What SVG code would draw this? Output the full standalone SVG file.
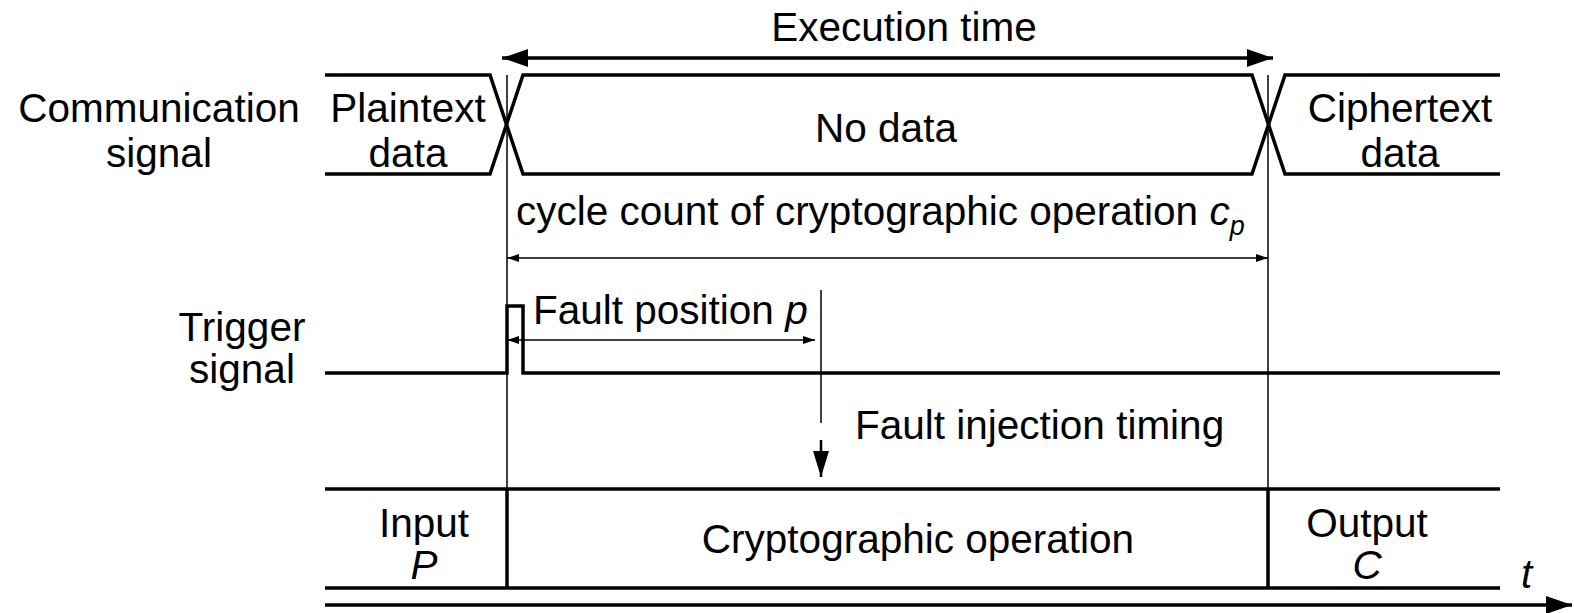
<svg xmlns="http://www.w3.org/2000/svg" width="1574" height="613" viewBox="0 0 1574 613">
  <style>
    .txt { font-family: "Liberation Sans", Arial, sans-serif; font-size: 40.5px; fill: #000; }
    .mid { text-anchor: middle; }
    .it { font-style: italic; }
    .thick { stroke: #000; stroke-width: 3.5; fill: none; }
    .thin { stroke: #000; stroke-width: 1.5; fill: none; }
  </style>
  <defs>
    <marker id="bigHead" viewBox="0 0 26 18" refX="26" refY="9" markerWidth="26" markerHeight="18" markerUnits="userSpaceOnUse" orient="auto-start-reverse">
      <path d="M0,0 L26,9 L0,18 Z" fill="#000"/>
    </marker>
    <marker id="smallHead" viewBox="0 0 12 8" refX="12" refY="4" markerWidth="12" markerHeight="8" markerUnits="userSpaceOnUse" orient="auto-start-reverse">
      <path d="M0,0 L12,4 L0,8 Z" fill="#000"/>
    </marker>
    <marker id="downHead" viewBox="0 0 16 26" refX="8" refY="26" markerWidth="16" markerHeight="26" markerUnits="userSpaceOnUse" orient="0">
      <path d="M0,0 L16,0 L8,26 Z" fill="#000"/>
    </marker>
  </defs>

  <!-- row labels -->
  <g id="label-communication">
    <text class="txt mid" x="159" y="122">Communication</text>
    <text class="txt mid" x="159" y="167">signal</text>
  </g>
  <g id="label-trigger">
    <text class="txt mid" x="242" y="341">Trigger</text>
    <text class="txt mid" x="242" y="383">signal</text>
  </g>

  <!-- communication signal bus -->
  <g id="communication-signal">
    <path class="thick" d="M325,75 H490 L523,174 H1252 L1285,75 H1500"/>
    <path class="thick" d="M325,174 H490 L523,75 H1252 L1285,174 H1500"/>
    <text class="txt mid" x="408" y="122">Plaintext</text>
    <text class="txt mid" x="408" y="167">data</text>
    <text class="txt mid" x="886" y="142">No data</text>
    <text class="txt mid" x="1400" y="122">Ciphertext</text>
    <text class="txt mid" x="1400" y="167">data</text>
  </g>

  <!-- trigger signal -->
  <g id="trigger-signal">
    <path class="thick" d="M325,373 H507 V306 H523 V373 H1500"/>
  </g>

  <!-- processing row -->
  <g id="processing">
    <path class="thick" d="M325,489 H1500 M325,588 H1500 M507,489 V588 M1268,489 V588"/>
    <text class="txt mid" x="424" y="537">Input</text>
    <text class="txt mid it" x="424" y="579">P</text>
    <text class="txt mid" font-size="41.5" x="918" y="553">Cryptographic operation</text>
    <text class="txt mid" x="1367" y="537">Output</text>
    <text class="txt mid it" x="1367" y="579">C</text>
  </g>

  <!-- time axis -->
  <g id="time-axis">
    <line class="thick" x1="325" y1="605" x2="1572" y2="605" marker-end="url(#bigHead)"/>
    <text class="txt it" x="1521" y="588">t</text>
  </g>

  <!-- timing references and dimension arrows -->
  <g id="connectors">
    <line class="thin" x1="507" y1="75" x2="507" y2="489"/>
    <line class="thin" x1="1268" y1="75" x2="1268" y2="489"/>
    <line class="thick" x1="502" y1="58" x2="1273" y2="58" marker-start="url(#bigHead)" marker-end="url(#bigHead)"/>
    <line class="thin" x1="507" y1="258" x2="1268" y2="258" marker-start="url(#smallHead)" marker-end="url(#smallHead)"/>
    <line class="thin" x1="507" y1="340" x2="815" y2="340" marker-start="url(#smallHead)" marker-end="url(#smallHead)"/>
    <line class="thin" x1="821" y1="290" x2="821" y2="423"/>
    <line stroke="#000" stroke-width="2.5" x1="821" y1="440" x2="821" y2="477" marker-end="url(#downHead)"/>
  </g>

  <!-- annotations -->
  <g id="annotations">
    <text class="txt mid" x="904" y="41">Execution time</text>
    <text class="txt" x="516" y="225">cycle count of cryptographic operation <tspan class="it">c</tspan><tspan class="it" font-size="27" dy="10">p</tspan></text>
    <text class="txt" x="533" y="324">Fault position <tspan class="it">p</tspan></text>
    <text class="txt" x="855" y="439">Fault injection timing</text>
  </g>
</svg>
